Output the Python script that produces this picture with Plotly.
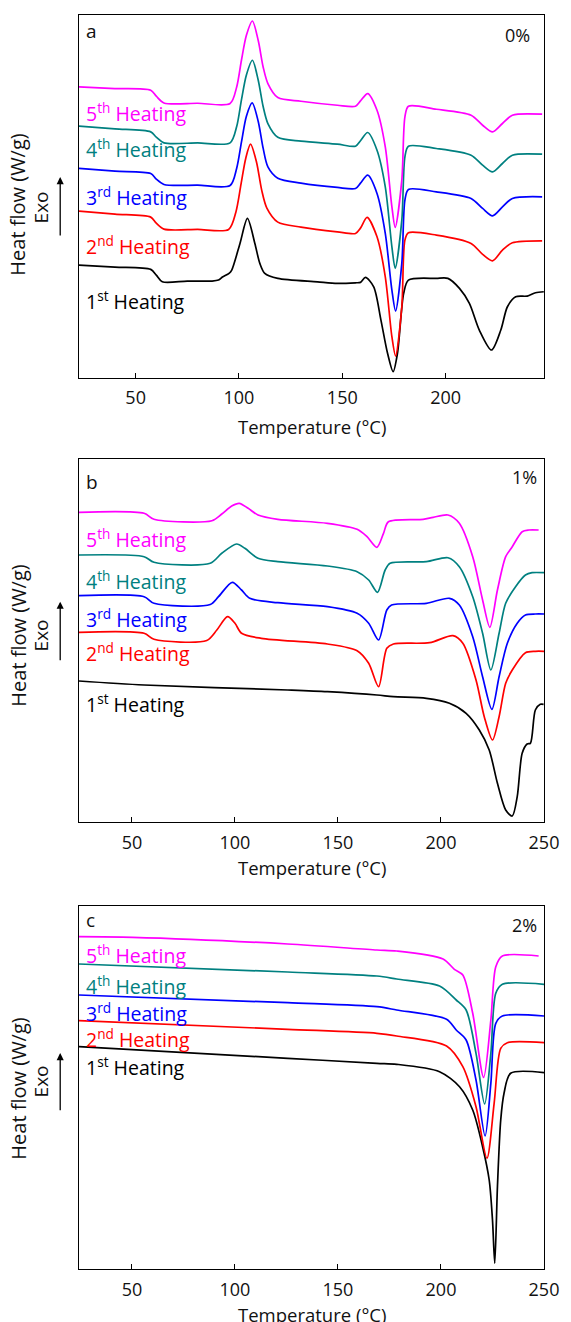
import plotly.graph_objects as go

# ---------------- data (heat flow, arbitrary units, curves stacked as shown) ----------------
# Panel a: 0%
a_T5 = [22.6, 40, 57.3, 60, 63.7, 80, 95.7, 98.9, 101.2, 103.6, 106.5, 109.3, 111.7, 114.0, 118.8, 130,
        147.6, 156.4, 158.8, 162.3, 166.8, 170.8, 174.0, 175.6, 178.8, 180.3, 182.0, 195.5, 212.3, 217.9,
        222.7, 227.5, 232.3, 246.7]
a_H5 = [291.0, 289.4, 287.7, 281.7, 275.0, 274.7, 274.4, 291.0, 317.7, 342.7, 357.0, 337.7, 311.0, 294.4,
        280.4, 276.7, 272.7, 271.7, 277.0, 284.4, 267.7, 231.0, 171.0, 150.4, 197.7, 261.0, 271.7, 268.7,
        262.7, 252.7, 246.0, 254.4, 262.7, 263.7]
a_T4 = a_T5
a_H4 = [251.7, 249.0, 246.0, 240.7, 235.0, 235.0, 235.0, 251.4, 278.0, 303.0, 317.7, 298.0, 271.4, 254.4,
        240.7, 236.7, 233.7, 231.7, 237.2, 245.4, 227.7, 191.0, 131.0, 109.4, 157.7, 221.0, 231.7, 229.4,
        222.7, 212.7, 206.0, 214.4, 222.7, 223.7]
a_T3 = [22.6, 40, 57.3, 60, 63.7, 80, 95.7, 98.9, 101.2, 103.6, 106.4, 109.3, 111.7, 114.0, 118.8, 130,
        147.6, 156.4, 158.8, 162.3, 166.8, 170.8, 174.0, 175.8, 178.8, 180.3, 182.0, 195.5, 212.3, 217.9,
        222.7, 227.5, 232.3, 246.7]
a_H3 = [209.4, 206.7, 204.4, 198.7, 193.4, 192.7, 192.4, 209.7, 235.7, 261.7, 275.0, 256.7, 229.7, 211.0,
        199.7, 194.7, 190.4, 189.4, 194.7, 202.7, 184.4, 144.4, 87.7, 66.7, 114.4, 177.7, 188.4, 186.0,
        179.4, 169.4, 162.0, 171.0, 179.4, 181.0]
a_T2 = [22.6, 40, 57.3, 60, 63.7, 80, 95.0, 98.5, 101.0, 103.3, 105.6, 108.5, 111.0, 113.5, 118.8, 130,
        147.6, 156.4, 158.8, 162.0, 166.8, 170.8, 174.0, 175.8, 178.8, 180.3, 182.0, 195.5, 212.3, 217.9,
        222.7, 227.5, 232.3, 246.7]
a_H2 = [166.7, 163.7, 160.7, 154.7, 148.7, 148.4, 148.4, 165.7, 193.7, 219.7, 233.7, 215.7, 187.7, 169.7,
        155.7, 150.7, 146.0, 144.4, 149.7, 160.4, 141.0, 101.0, 41.0, 21.7, 71.0, 137.7, 145.0, 142.7,
        134.4, 123.4, 117.0, 127.7, 135.0, 137.0]
a_T1 = [22.6, 40, 57.3, 60, 62.9, 75, 86.9, 90.1, 92.0, 95.2, 96.5, 100.5, 104.1, 107.7, 110.1, 112.5, 118.8,
        138, 147.6, 156.4, 158.8, 161.2, 165.2, 168.7, 171.9, 174.6, 176.7, 179.7, 182.0, 195.5, 201.1,
        206.7, 211.5, 216.3, 222.2, 226.7, 229.9, 233.9, 239.5, 243.5, 247.5]
a_H1 = [112.7, 110.7, 108.4, 102.7, 96.0, 96.7, 96.7, 97.7, 100.7, 104.4, 107.7, 134.4, 159.4, 134.4, 114.4,
        104.4, 99.4, 96.0, 94.4, 95.0, 95.4, 100.4, 91.0, 57.7, 24.4, 6.0, 24.4, 84.4, 97.7, 99.4, 99.4,
        89.4, 74.4, 47.7, 27.7, 47.7, 71.0, 81.0, 81.7, 85.0, 86.0]

# Panel b: 1%
b_T5 = [24.3, 55.9, 60.7, 88.8, 93.6, 98.4, 102.1, 106.4, 111.2, 120.8, 144.9, 159.3, 164.1, 168.9, 172.1,
        174.5, 191.3, 196.2, 203.4, 208.9, 215.4, 220.2, 223.7, 227.4, 231.4, 234.6, 239.4, 242.6, 247.4]
b_H5 = [310.0, 309.0, 303.0, 301.6, 308.3, 316.3, 319.0, 314.0, 307.3, 303.0, 299.0, 293.0, 285.6, 275.0,
        289.0, 300.6, 303.0, 305.0, 307.3, 299.0, 265.6, 222.3, 195.0, 232.3, 265.6, 275.6, 290.6, 292.3, 292.3]
b_T4 = [24.3, 55.9, 60.7, 88.0, 93.6, 100.8, 104.8, 111.2, 120.8, 144.9, 159.3, 164.9, 169.2, 172.9, 175.3,
        192.9, 203.4, 208.9, 215.4, 220.2, 224.2, 228.2, 231.4, 236.2, 241.0, 244.2, 250]
b_H4 = [267.3, 265.6, 260.0, 259.0, 269.0, 278.3, 274.0, 264.0, 260.6, 256.3, 250.6, 242.3, 230.0, 252.3,
        259.0, 260.6, 264.6, 255.6, 225.6, 189.0, 152.3, 189.0, 219.0, 235.6, 247.3, 249.6, 249.6]
b_T3 = [24.3, 55.9, 60.7, 88.0, 92.0, 98.7, 103.2, 107.2, 120.8, 144.9, 159.3, 164.9, 169.7, 173.7, 176.0,
        192.9, 204.1, 208.9, 215.4, 220.2, 224.7, 228.2, 232.2, 237.0, 241.0, 245.8, 250]
b_H3 = [226.6, 225.6, 219.0, 217.8, 225.6, 240.0, 232.3, 224.0, 219.6, 215.6, 209.0, 199.0, 182.3, 212.3,
        217.3, 219.0, 224.0, 217.3, 185.6, 145.6, 113.0, 145.6, 179.0, 199.0, 207.3, 208.3, 208.3]
b_T2 = [24.3, 55.9, 60.7, 86.3, 91.2, 96.4, 100.0, 103.2, 112.8, 144.9, 159.3, 164.9, 169.7, 173.7, 176.9,
        194.5, 205.8, 210.6, 217.0, 221.0, 225.0, 228.2, 231.4, 234.6, 241.0, 245.8, 250]
b_H2 = [190.0, 189.0, 183.0, 181.8, 192.3, 205.6, 199.0, 189.0, 184.0, 178.3, 171.6, 159.0, 135.6, 174.0,
        178.3, 179.6, 186.6, 179.0, 142.3, 105.6, 82.3, 105.6, 139.0, 152.3, 169.6, 171.0, 171.0]
b_T1 = [24.3, 55.9, 125.6, 144.9, 168.9, 176.9, 192.9, 204.1, 212.2, 218.6, 223.4, 227.4, 231.4, 234.6,
        237.0, 239.4, 241.8, 243.4, 245.8, 248.2, 249.8]
b_H1 = [141.3, 137.3, 132.3, 130.6, 127.3, 125.6, 124.0, 119.0, 109.0, 92.3, 72.3, 39.0, 12.3, 6.3, 25.6,
        69.0, 78.3, 79.0, 112.3, 118.0, 118.0]

# Panel c: 2%
c_T5 = [24.3, 50.3, 125.6, 168.9, 178.5, 201.0, 206.5, 210.6, 215.4, 220.7, 224.2, 226.6, 229.8, 247.4]
c_H5 = [332.3, 331.7, 325.0, 319.0, 318.0, 310.0, 299.7, 294.0, 255.7, 191.7, 249.0, 302.3, 313.0, 313.0]
c_T4 = [24.3, 125.6, 168.9, 178.5, 199.3, 207.4, 212.2, 217.0, 221.2, 224.2, 226.6, 229.8, 250]
c_H4 = [305.0, 297.0, 293.0, 290.0, 283.0, 269.0, 259.0, 215.7, 165.0, 215.7, 275.7, 284.7, 284.7]
c_T3 = [24.3, 125.6, 168.9, 178.5, 202.7, 207.4, 212.2, 217.0, 221.4, 224.2, 226.6, 229.8, 250]
c_H3 = [274.0, 266.3, 262.3, 259.0, 249.7, 239.0, 229.0, 189.0, 133.0, 185.7, 245.7, 253.0, 253.0]
c_T2 = [24.3, 125.6, 168.9, 178.5, 202.7, 210.6, 217.0, 222.3, 225.8, 229.0, 232.2, 250]
c_H2 = [248.3, 239.7, 235.7, 233.0, 223.0, 202.3, 162.3, 110.7, 165.7, 220.7, 226.3, 226.3]
c_T1 = [24.3, 125.6, 168.9, 178.5, 199.3, 209.0, 215.4, 220.2, 223.4, 225.0, 226.1, 227.4, 229.0, 230.6,
        233.8, 250]
c_H1 = [222.3, 210.7, 205.7, 204.7, 197.3, 182.3, 159.0, 122.3, 89.0, 49.0, 5.7, 82.3, 149.0, 175.7,
        195.7, 196.3]

labels = ["1<sup>st</sup> Heating", "2<sup>nd</sup> Heating", "3<sup>rd</sup> Heating",
          "4<sup>th</sup> Heating", "5<sup>th</sup> Heating"]
colors = ["#000000", "#FF0000", "#0000FF", "#008080", "#FF00FF"]
panel_letters = ["a", "b", "c"]
panel_pcts = ["0%", "1%", "2%"]
xtick_a = [50, 100, 150, 200]
xtick_bc = [50, 100, 150, 200, 250]

# ---------------- layout helpers ----------------
W, H = 571, 1322
L, R, T, B = 79, 22, 15, 53


def fx(px):
    return (px - L) / (W - L - R)


def fy(py):
    return (H - B - py) / (H - T - B)


FONT = "Open Sans"
TXT = "#111111"
fig = go.Figure()

panels = [
    ([(a_T1, a_H1), (a_T2, a_H2), (a_T3, a_H3), (a_T4, a_H4), (a_T5, a_H5)], "x", "y"),
    ([(b_T1, b_H1), (b_T2, b_H2), (b_T3, b_H3), (b_T4, b_H4), (b_T5, b_H5)], "x2", "y2"),
    ([(c_T1, c_H1), (c_T2, c_H2), (c_T3, c_H3), (c_T4, c_H4), (c_T5, c_H5)], "x3", "y3"),
]
for curves, xa, ya in panels:
    for (tx, hy), col in zip(curves, colors):
        fig.add_trace(go.Scatter(x=tx, y=hy, mode="lines", xaxis=xa, yaxis=ya,
                                 line=dict(color=col, width=1.7, shape="spline", smoothing=0.8),
                                 showlegend=False, hoverinfo="skip"))

# pixel geometry of each panel (top, bottom)
geo = [(14.7, 377.7), (459.0, 822.3), (905.7, 1269.0)]
xranges = [[22.6, 247.6], [24.3, 250], [24.3, 250]]
xticks = [xtick_a, xtick_bc, xtick_bc]

axcommon = dict(showline=True, mirror=True, linecolor="black", linewidth=1.3, showgrid=False,
                zeroline=False)
for i, ((top, bot), xr, tv) in enumerate(zip(geo, xranges, xticks)):
    sfx = "" if i == 0 else str(i + 1)
    fig.layout["xaxis" + sfx] = dict(
        axcommon, range=xr, domain=[0, 1], anchor="y" + sfx, tickmode="array", tickvals=tv,
        ticks="inside", ticklen=5, tickwidth=1.2, tickcolor="black", ticklabelstandoff=4,
        tickfont=dict(family=FONT, size=18, color=TXT))
    fig.layout["yaxis" + sfx] = dict(
        axcommon, range=[0, bot - top], domain=[max(0, fy(bot)), min(1, fy(top))],
        anchor="x" + sfx, showticklabels=False, ticks="")

ann = []
# curve label y-centres (px) per panel, order 1st..5th
label_py = [[300.0, 245.0, 196.7, 148.3, 112.7],
            [703.3, 652.7, 618.3, 580.0, 538.3],
            [1066.0, 1038.3, 1012.7, 985.0, 954.0]]
letter_py = [30.7, 481.7, 920.0]
pct_px = [537, 544, 544]
pct_py = [35.0, 477.3, 925.0]
title_py = [426, 867, 1314]
ytitle_py = [205, 636, 1089]
exo_py = [207, 635, 1081]
arrow = [(177, 237), (601.7, 661.7), (1053, 1111.7)]

for i in range(3):
    for j in range(5):
        ann.append(dict(xref="paper", yref="paper", x=fx(84), y=fy(label_py[i][j]), text=labels[j],
                        showarrow=False, xanchor="left", yanchor="middle",
                        font=dict(family=FONT, size=19.5, color=colors[j])))
    ann.append(dict(xref="paper", yref="paper", x=fx(84), y=fy(letter_py[i]), text=panel_letters[i],
                    showarrow=False, xanchor="left", yanchor="middle",
                    font=dict(family=FONT, size=19, color=TXT)))
    ann.append(dict(xref="paper", yref="paper", x=fx(pct_px[i]), y=fy(pct_py[i]), text=panel_pcts[i],
                    showarrow=False, xanchor="right", yanchor="middle",
                    font=dict(family=FONT, size=18, color=TXT)))
    ann.append(dict(xref="paper", yref="paper", x=fx(314), y=fy(title_py[i]), text="Temperature (°C)",
                    showarrow=False, xanchor="center", yanchor="middle",
                    font=dict(family=FONT, size=18.5, color=TXT)))
    ann.append(dict(xref="paper", yref="paper", x=fx(17), y=fy(ytitle_py[i]), text="Heat flow (W/g)",
                    showarrow=False, xanchor="center", yanchor="middle", textangle=-90,
                    font=dict(family=FONT, size=20, color=TXT)))
    ann.append(dict(xref="paper", yref="paper", x=fx(41), y=fy(exo_py[i]), text="Exo",
                    showarrow=False, xanchor="center", yanchor="middle", textangle=-90,
                    font=dict(family=FONT, size=19, color=TXT)))
    head, tail = arrow[i]
    ann.append(dict(xref="paper", yref="paper", x=fx(60), y=fy(head), text="", showarrow=True,
                    ax=0, ay=tail - head, arrowhead=2, arrowsize=1.1, arrowwidth=1.3,
                    arrowcolor="black"))

fig.update_layout(width=W, height=H, margin=dict(l=L, r=R, t=T, b=B), plot_bgcolor="white",
                  paper_bgcolor="white", annotations=ann, font=dict(family=FONT))

fig.write_html("out.html")
